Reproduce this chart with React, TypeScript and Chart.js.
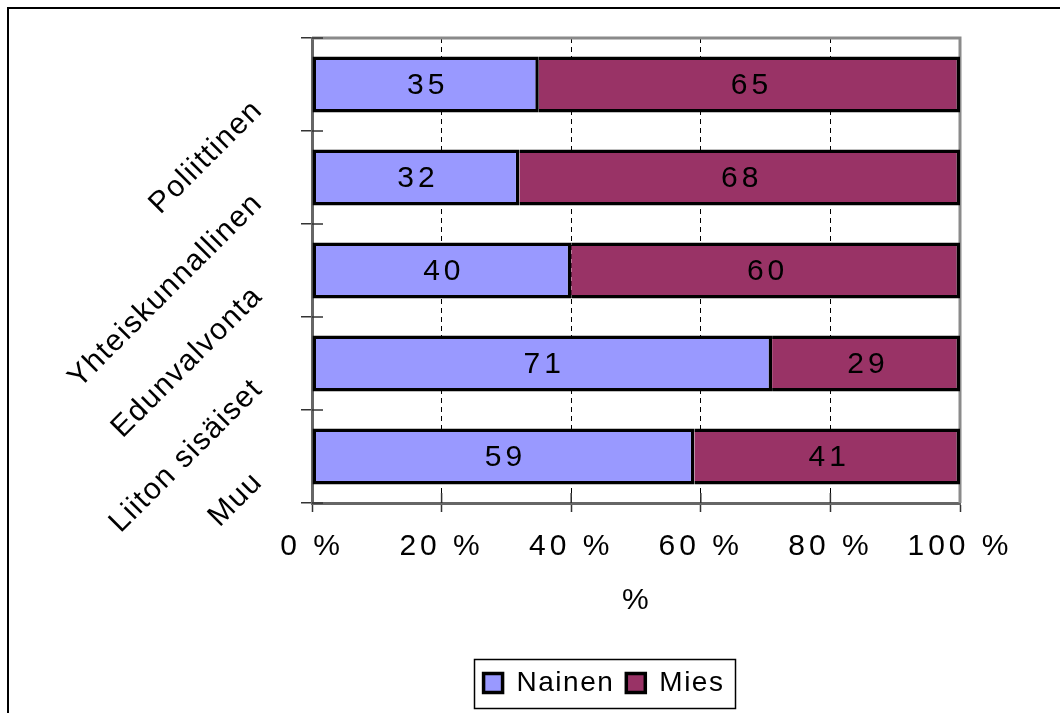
import React, { useEffect, useRef } from "react";
import { Chart, registerables } from "chart.js";

Chart.register(...registerables);

const categories = ["Poliittinen", "Yhteiskunnallinen", "Edunvalvonta", "Liiton sisäiset", "Muu"];
const seriesNames = ["Nainen", "Mies"];
const nainenValues = [35, 32, 40, 71, 59];
const miesValues = [65, 68, 60, 29, 41];
const xTickValues = [0, 20, 40, 60, 80, 100];
const xTickSuffix = " %";
const xAxisTitle = "%";

const FONT = "'Liberation Sans', Arial, Helvetica, sans-serif";
const LEGEND_CENTER_X = 594;
const BASE_SPACING = "1.5px";
const NUMBER_SPACING = "4px";

export default function App() {
  const canvasRef = useRef<HTMLCanvasElement | null>(null);

  useEffect(() => {
    const canvas = canvasRef.current;
    if (!canvas) return;

    const spacing = {
      id: "spacing",
      beforeUpdate(chart: any) {
        chart.ctx.letterSpacing = BASE_SPACING;
      },
      beforeLayout(chart: any) {
        chart.ctx.letterSpacing = BASE_SPACING;
      },
      beforeDraw(chart: any) {
        chart.ctx.letterSpacing = BASE_SPACING;
      },
    };

    const legendShift = {
      id: "legendShift",
      afterLayout(chart: any) {
        const lg = chart.legend;
        if (!lg) return;
        const dx = LEGEND_CENTER_X - (lg.left + lg.right) / 2;
        lg.left += dx;
        lg.right += dx;
      },
    };

    const frame = {
      id: "frame",
      beforeDatasetsDraw(chart: any) {
        const { ctx, chartArea: a, scales } = chart;
        ctx.save();
        ctx.setLineDash([]);
        ctx.strokeStyle = "#8a8a8a";
        ctx.lineWidth = 3;
        ctx.beginPath();
        ctx.moveTo(a.left, a.top);
        ctx.lineTo(a.right, a.top);
        ctx.lineTo(a.right, a.bottom);
        ctx.stroke();
        ctx.strokeStyle = "#333";
        ctx.lineWidth = 1.5;
        ctx.beginPath();
        const ys = scales.y;
        for (let i = 0; i <= categories.length; i++) {
          const py = ys.getPixelForValue(i - 0.5);
          ctx.moveTo(a.left, py);
          ctx.lineTo(a.left + 11, py);
        }
        const xs = scales.x;
        xTickValues.slice(1, -1).forEach((v) => {
          const px = xs.getPixelForValue(v);
          ctx.moveTo(px, a.bottom);
          ctx.lineTo(px, a.bottom - 10);
        });
        ctx.stroke();
        ctx.restore();
      },
    };

    const dataLabels = {
      id: "dataLabels",
      afterDatasetsDraw(chart: any) {
        const ctx = chart.ctx;
        ctx.save();
        ctx.letterSpacing = NUMBER_SPACING;
        ctx.font = `30px ${FONT}`;
        ctx.fillStyle = "#000";
        ctx.textAlign = "center";
        ctx.textBaseline = "middle";
        chart.data.datasets.forEach((ds: any, di: number) => {
          const meta = chart.getDatasetMeta(di);
          meta.data.forEach((el: any, i: number) => {
            const p = el.getCenterPoint();
            ctx.fillText(String(ds.data[i]), p.x + 2, p.y + 1);
          });
        });
        ctx.restore();
        ctx.letterSpacing = NUMBER_SPACING;
      },
    };

    const legendFrame = {
      id: "legendFrame",
      afterDraw(chart: any) {
        const ctx = chart.ctx;
        ctx.letterSpacing = BASE_SPACING;
        const hb = chart.legend && chart.legend.legendHitBoxes;
        if (!hb || !hb.length) return;
        const last = hb[hb.length - 1];
        const l = hb[0].left - 10;
        const r = last.left + last.width + 10;
        const cy = hb[0].top + hb[0].height / 2;
        ctx.save();
        ctx.setLineDash([]);
        ctx.strokeStyle = "#000";
        ctx.lineWidth = 1.5;
        ctx.strokeRect(Math.round(l) + 0.5, Math.round(cy - 24.5) + 0.5, Math.round(r - l), 49);
        ctx.restore();
      },
    };

    const chart = new Chart(canvas, {
      type: "bar",
      data: {
        labels: categories,
        datasets: [
          {
            label: seriesNames[0],
            data: nainenValues,
            backgroundColor: "#9999FF",
            borderColor: "#000",
            borderWidth: 3.5,
            borderSkipped: false,
          },
          {
            label: seriesNames[1],
            data: miesValues,
            backgroundColor: "#993366",
            borderColor: "#000",
            borderWidth: 3.5,
            borderSkipped: "start",
          },
        ],
      },
      options: {
        indexAxis: "y",
        animation: false,
        responsive: false,
        maintainAspectRatio: false,
        datasets: { bar: { barPercentage: 0.6, categoryPercentage: 1 } },
        layout: { padding: { left: 0, right: 100, top: 28, bottom: 6 } },
        font: { family: FONT },
        scales: {
          x: {
            type: "linear",
            stacked: true,
            min: 0,
            max: 100,
            afterBuildTicks: (s: any) => {
              s.ticks = xTickValues.map((v) => ({ value: v }));
            },
            afterFit: (s: any) => {
              s.height = 154;
            },
            ticks: {
              z: 1,
              padding: 17,
              color: "#000",
              font: { size: 30, family: FONT },
              callback: (v: any) => v + xTickSuffix,
            },
            grid: {
              color: "#000",
              lineWidth: 1,
              tickLength: 9,
              tickColor: "#333",
              tickWidth: 1.5,
              tickBorderDash: [],
            },
            border: { color: "#666", width: 3, dash: [5, 4] },
            title: {
              display: true,
              text: xAxisTitle,
              color: "#000",
              font: { size: 30, family: FONT },
              padding: { top: 0, bottom: 38 },
            },
          },
          y: {
            type: "category",
            stacked: true,
            afterFit: (s: any) => {
              s.width = 302;
              s.paddingTop = 0;
              s.paddingBottom = 0;
            },
            ticks: {
              minRotation: 45,
              maxRotation: 45,
              padding: 43,
              labelOffset: 21,
              color: "#000",
              font: { size: 30, family: FONT },
            },
            grid: {
              display: true,
              drawOnChartArea: false,
              offset: true,
              tickLength: 11,
              color: "#333",
              lineWidth: 1.5,
            },
            border: { color: "#666", width: 3 },
          },
        },
        plugins: {
          legend: {
            position: "bottom",
            labels: {
              color: "#000",
              font: { size: 28, family: FONT },
              boxWidth: 19,
              boxHeight: 19,
              padding: 12,
            },
          },
          tooltip: { enabled: false },
        },
      },
      plugins: [spacing, legendShift, frame, dataLabels, legendFrame],
    } as any);

    return () => {
      chart.destroy();
    };
  }, []);

  return (
    <div
      style={{
        position: "absolute",
        left: 7,
        top: 7,
        width: 1051,
        height: 704,
        borderLeft: "2px solid #000",
        borderTop: "2px solid #000",
        overflow: "hidden",
        background: "#fff",
      }}
    >
      <canvas
        ref={canvasRef}
        width={1050}
        height={703}
        style={{ position: "absolute", left: 1, top: 1, width: 1050, height: 703 }}
      />
    </div>
  );
}
